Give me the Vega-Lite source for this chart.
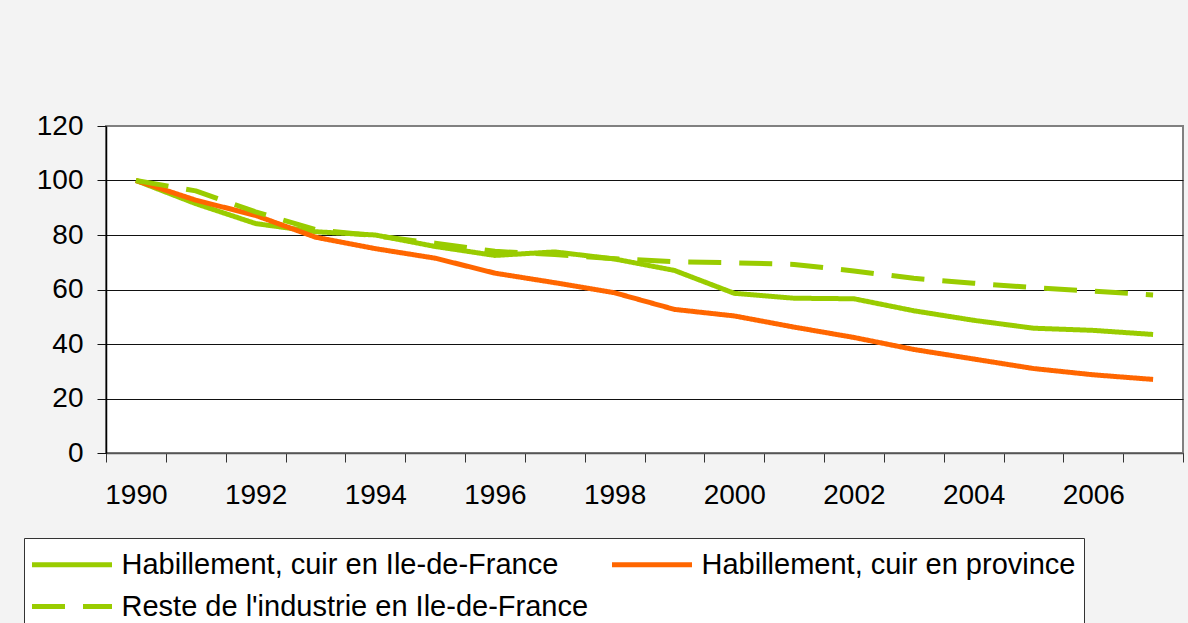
{
  "$schema": "https://vega.github.io/schema/vega-lite/v6.json",
  "autosize": {"type": "none"},
  "padding": {"left": 106, "top": 126, "right": 5, "bottom": 170},
  "width": 1077,
  "height": 327,
  "background": "#f3f3f3",
  "config": {
    "view": {"fill": "#ffffff", "stroke": "#808080", "strokeWidth": 2},
    "font": "Liberation Sans"
  },
  "data": {
    "values": [
      {"annee": 1990, "serie": "Habillement, cuir en Ile-de-France", "indice": 100},
      {"annee": 1991, "serie": "Habillement, cuir en Ile-de-France", "indice": 91.5},
      {"annee": 1992, "serie": "Habillement, cuir en Ile-de-France", "indice": 84.2},
      {"annee": 1993, "serie": "Habillement, cuir en Ile-de-France", "indice": 81.2},
      {"annee": 1994, "serie": "Habillement, cuir en Ile-de-France", "indice": 80.0},
      {"annee": 1995, "serie": "Habillement, cuir en Ile-de-France", "indice": 75.8},
      {"annee": 1996, "serie": "Habillement, cuir en Ile-de-France", "indice": 72.5},
      {"annee": 1997, "serie": "Habillement, cuir en Ile-de-France", "indice": 73.8},
      {"annee": 1998, "serie": "Habillement, cuir en Ile-de-France", "indice": 71.2},
      {"annee": 1999, "serie": "Habillement, cuir en Ile-de-France", "indice": 67.0},
      {"annee": 2000, "serie": "Habillement, cuir en Ile-de-France", "indice": 58.6},
      {"annee": 2001, "serie": "Habillement, cuir en Ile-de-France", "indice": 56.8},
      {"annee": 2002, "serie": "Habillement, cuir en Ile-de-France", "indice": 56.6},
      {"annee": 2003, "serie": "Habillement, cuir en Ile-de-France", "indice": 52.2},
      {"annee": 2004, "serie": "Habillement, cuir en Ile-de-France", "indice": 48.7},
      {"annee": 2005, "serie": "Habillement, cuir en Ile-de-France", "indice": 45.8},
      {"annee": 2006, "serie": "Habillement, cuir en Ile-de-France", "indice": 45.0},
      {"annee": 2007, "serie": "Habillement, cuir en Ile-de-France", "indice": 43.5},
      {"annee": 1990, "serie": "Habillement, cuir en province", "indice": 100},
      {"annee": 1991, "serie": "Habillement, cuir en province", "indice": 92.8},
      {"annee": 1992, "serie": "Habillement, cuir en province", "indice": 87.2},
      {"annee": 1993, "serie": "Habillement, cuir en province", "indice": 79.2},
      {"annee": 1994, "serie": "Habillement, cuir en province", "indice": 75.0},
      {"annee": 1995, "serie": "Habillement, cuir en province", "indice": 71.5},
      {"annee": 1996, "serie": "Habillement, cuir en province", "indice": 66.0},
      {"annee": 1997, "serie": "Habillement, cuir en province", "indice": 62.5},
      {"annee": 1998, "serie": "Habillement, cuir en province", "indice": 58.8},
      {"annee": 1999, "serie": "Habillement, cuir en province", "indice": 52.7},
      {"annee": 2000, "serie": "Habillement, cuir en province", "indice": 50.3},
      {"annee": 2001, "serie": "Habillement, cuir en province", "indice": 46.2},
      {"annee": 2002, "serie": "Habillement, cuir en province", "indice": 42.4},
      {"annee": 2003, "serie": "Habillement, cuir en province", "indice": 38.0},
      {"annee": 2004, "serie": "Habillement, cuir en province", "indice": 34.5},
      {"annee": 2005, "serie": "Habillement, cuir en province", "indice": 31.0},
      {"annee": 2006, "serie": "Habillement, cuir en province", "indice": 28.7},
      {"annee": 2007, "serie": "Habillement, cuir en province", "indice": 27.0},
      {"annee": 1990, "serie": "Reste de l'industrie en Ile-de-France", "indice": 100},
      {"annee": 1991, "serie": "Reste de l'industrie en Ile-de-France", "indice": 96.2},
      {"annee": 1992, "serie": "Reste de l'industrie en Ile-de-France", "indice": 88.5},
      {"annee": 1993, "serie": "Reste de l'industrie en Ile-de-France", "indice": 82.0},
      {"annee": 1994, "serie": "Reste de l'industrie en Ile-de-France", "indice": 79.7},
      {"annee": 1995, "serie": "Reste de l'industrie en Ile-de-France", "indice": 77.0},
      {"annee": 1996, "serie": "Reste de l'industrie en Ile-de-France", "indice": 74.0},
      {"annee": 1997, "serie": "Reste de l'industrie en Ile-de-France", "indice": 72.8},
      {"annee": 1998, "serie": "Reste de l'industrie en Ile-de-France", "indice": 71.3},
      {"annee": 1999, "serie": "Reste de l'industrie en Ile-de-France", "indice": 70.2},
      {"annee": 2000, "serie": "Reste de l'industrie en Ile-de-France", "indice": 69.8},
      {"annee": 2001, "serie": "Reste de l'industrie en Ile-de-France", "indice": 69.2},
      {"annee": 2002, "serie": "Reste de l'industrie en Ile-de-France", "indice": 66.8},
      {"annee": 2003, "serie": "Reste de l'industrie en Ile-de-France", "indice": 64.1},
      {"annee": 2004, "serie": "Reste de l'industrie en Ile-de-France", "indice": 62.3},
      {"annee": 2005, "serie": "Reste de l'industrie en Ile-de-France", "indice": 60.7},
      {"annee": 2006, "serie": "Reste de l'industrie en Ile-de-France", "indice": 59.4},
      {"annee": 2007, "serie": "Reste de l'industrie en Ile-de-France", "indice": 58.0}
    ]
  },
  "mark": {"type": "line", "strokeWidth": 5, "strokeCap": "butt", "strokeJoin": "round"},
  "encoding": {
    "x": {
      "field": "annee",
      "type": "quantitative",
      "scale": {"domain": [1989.5, 2007.5], "nice": false, "zero": false},
      "axis": {
        "title": null,
        "grid": false,
        "values": [1989.5, 1990.5, 1991.5, 1992.5, 1993.5, 1994.5, 1995.5, 1996.5, 1997.5, 1998.5, 1999.5, 2000.5, 2001.5, 2002.5, 2003.5, 2004.5, 2005.5, 2006.5, 2007.5],
        "labelExpr": "(datum.value - 0.5) % 2 === 0 ? format(datum.value - 0.5, 'd') : ''",
        "labelOffset": -29.9,
        "labelOverlap": false,
        "labelFlush": false,
        "labelBound": false,
        "labelFont": "Liberation Sans",
        "labelFontSize": 28,
        "labelColor": "#000000",
        "labelPadding": 19,
        "tickSize": 9,
        "tickColor": "#333333",
        "tickWidth": 1,
        "domainColor": "#555555",
        "domainWidth": 1.5
      }
    },
    "y": {
      "field": "indice",
      "type": "quantitative",
      "scale": {"domain": [0, 120], "nice": false},
      "axis": {
        "title": null,
        "values": [0, 20, 40, 60, 80, 100, 120],
        "grid": true,
        "gridColor": {"condition": {"test": "datum.value === 120", "value": "#808080"}, "value": "#111111"},
        "gridWidth": 1,
        "labelFont": "Liberation Sans",
        "labelFontSize": 28,
        "labelColor": "#000000",
        "labelPadding": 14,
        "tickSize": 9,
        "tickColor": "#111111",
        "domainColor": "#000000",
        "domainWidth": 1.5
      }
    },
    "color": {
      "field": "serie",
      "type": "nominal",
      "scale": {
        "domain": ["Habillement, cuir en Ile-de-France", "Habillement, cuir en province", "Reste de l'industrie en Ile-de-France"],
        "range": ["#99cc00", "#ff6600", "#99cc00"]
      },
      "legend": {
        "title": null,
        "orient": "none",
        "legendX": -82,
        "legendY": 412,
        "columns": 2,
        "direction": "horizontal",
        "symbolType": "M-2.5,0H2.5",
        "symbolSize": 1024,
        "symbolStrokeWidth": 5,
        "symbolOffset": 21.5,
        "labelOffset": 31,
        "labelFont": "Liberation Sans",
        "labelFontSize": 29,
        "labelColor": "#000000",
        "labelLimit": 1000,
        "rowPadding": 8,
        "columnPadding": 13,
        "padding": 8,
        "fillColor": "#ffffff",
        "strokeColor": "#333333"
      }
    },
    "strokeDash": {
      "field": "serie",
      "type": "nominal",
      "scale": {
        "domain": ["Habillement, cuir en Ile-de-France", "Habillement, cuir en province", "Reste de l'industrie en Ile-de-France"],
        "range": [[1, 0], [1, 0], [33, 18]]
      },
      "legend": {
        "title": null,
        "orient": "none",
        "legendX": -82,
        "legendY": 412,
        "columns": 2,
        "direction": "horizontal",
        "symbolType": "M-2.5,0H2.5",
        "symbolSize": 1024,
        "symbolStrokeWidth": 5,
        "symbolOffset": 21.5,
        "labelOffset": 31,
        "labelFont": "Liberation Sans",
        "labelFontSize": 29,
        "labelColor": "#000000",
        "labelLimit": 1000,
        "rowPadding": 8,
        "columnPadding": 13,
        "padding": 8,
        "fillColor": "#ffffff",
        "strokeColor": "#333333"
      }
    }
  }
}
